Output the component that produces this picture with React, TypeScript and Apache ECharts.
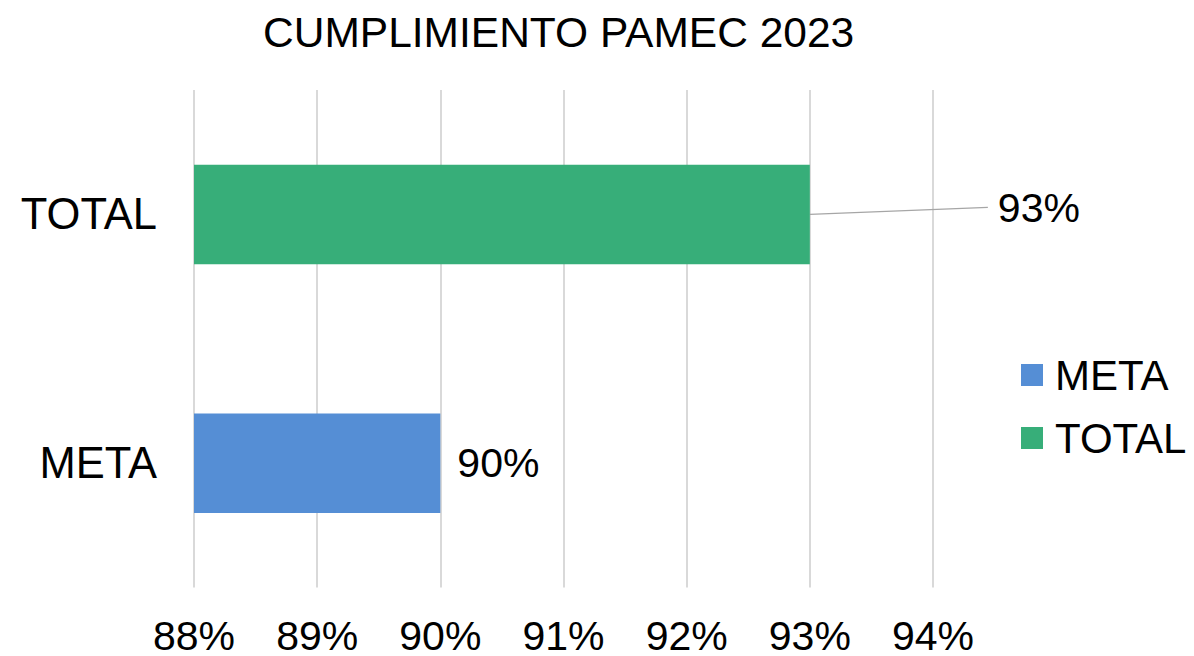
import React, { useEffect, useRef } from "react";
import * as echarts from "echarts";

const TITLE = "CUMPLIMIENTO PAMEC 2023";
const categories = ["META", "TOTAL"];
const seriesNames = ["META", "TOTAL"];
const metaValues: (number | string)[] = [90, "-"];
const totalValues: (number | string)[] = ["-", 93];
const axisMin = 88;
const axisMax = 94;
const axisInterval = 1;

const FONT = 'Arial, "Liberation Sans", sans-serif';
const FS = 41;

export default function App() {
  const ref = useRef<HTMLDivElement>(null);
  useEffect(() => {
    if (!ref.current) return;
    const chart = echarts.init(ref.current, null, { renderer: "svg" });
    chart.setOption({
      animation: false,
      backgroundColor: "#ffffff",
      textStyle: { fontFamily: FONT },
      title: {
        text: TITLE,
        left: 263,
        top: 11,
        padding: 0,
        textStyle: { fontFamily: FONT, fontSize: 42.5, fontWeight: "normal", color: "#000", lineHeight: 43 },
      },
      legend: {
        orient: "vertical",
        left: 1021,
        top: 354,
        padding: 0,
        itemGap: 21,
        itemWidth: 22,
        itemHeight: 22,
        icon: "rect",
        data: seriesNames,
        textStyle: { fontFamily: FONT, fontSize: 42, color: "#000", lineHeight: 41, padding: [0, 0, 0, 7] },
      },
      grid: { left: 194, right: 261, top: 90, bottom: 68, containLabel: false },
      xAxis: {
        type: "value",
        min: axisMin,
        max: axisMax,
        interval: axisInterval,
        axisLine: { show: false },
        axisTick: { show: false },
        splitLine: { show: true, lineStyle: { color: "#d9d9d9", width: 2 } },
        axisLabel: {
          formatter: (v: number) => `${Math.round(v)}%`,
          fontFamily: FONT,
          fontSize: FS,
          lineHeight: 36,
          color: "#000",
          margin: 30,
        },
      },
      yAxis: {
        type: "category",
        data: categories,
        axisLine: { show: false },
        axisTick: { show: false },
        axisLabel: { fontFamily: FONT, fontSize: 43.5, color: "#000", margin: 37 },
      },
      series: [
        {
          name: seriesNames[0],
          type: "bar",
          data: metaValues,
          barWidth: "40%",
          barGap: "-100%",
          itemStyle: { color: "#558ed5" },
          label: {
            show: true,
            position: "right",
            distance: 17,
            formatter: (p: any) => `${p.value}%`,
            fontFamily: FONT,
            fontSize: FS,
            color: "#000",
          },
        },
        {
          name: seriesNames[1],
          type: "bar",
          data: totalValues,
          barWidth: "40%",
          barGap: "-100%",
          itemStyle: { color: "#37ae79" },
          label: {
            show: true,
            position: "right",
            distance: 17,
            formatter: (p: any) => `${p.value}%`,
            fontFamily: FONT,
            fontSize: FS,
            color: "#000",
          },
          labelLayout: { dx: 171, dy: -6 },
        },
      ],
    });
    const totalIdx = categories.indexOf("TOTAL");
    const p = chart.convertToPixel({ gridIndex: 0 }, [totalValues[totalIdx] as number, totalIdx]) as number[];
    if (p && isFinite(p[0])) {
      chart.setOption({
        graphic: [
          {
            type: "line",
            silent: true,
            shape: { x1: p[0], y1: p[1], x2: p[0] + 178, y2: p[1] - 7 },
            style: { stroke: "#a6a6a6", lineWidth: 1.5 },
          },
        ],
      });
    }
    return () => chart.dispose();
  }, []);
  return (
    <div
      ref={ref}
      style={{ position: "fixed", left: 0, top: 0, width: 1194, height: 656, background: "#fff" }}
    />
  );
}
